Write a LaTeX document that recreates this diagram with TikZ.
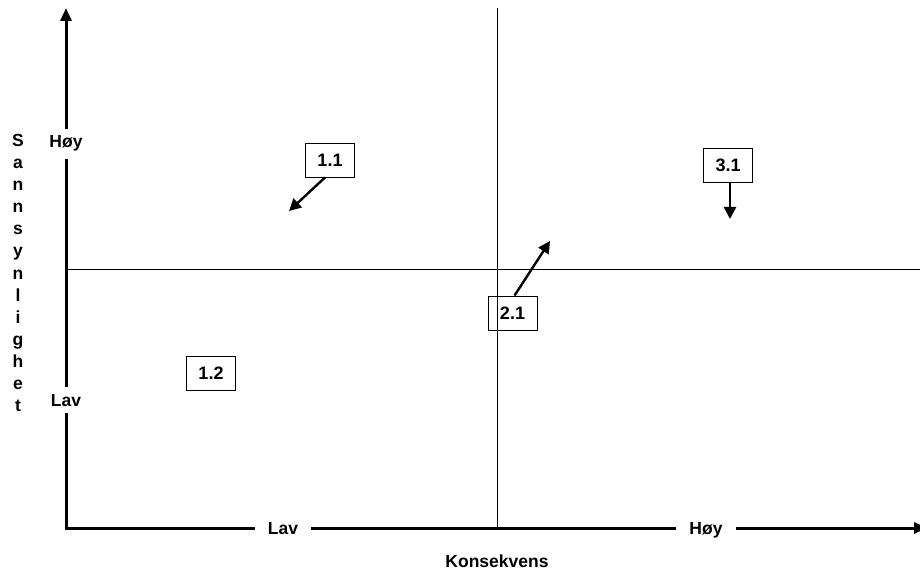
\documentclass[tikz,border=0pt]{standalone}
\usepackage{fontspec}
\setmainfont{Liberation Sans}
\usetikzlibrary{arrows.meta}
\begin{document}
\begin{tikzpicture}[x=1pt,y=-1pt,
  lbl/.style={font=\fontsize{17.5}{20}\selectfont\bfseries, inner sep=0pt},
  axlbl/.style={lbl, fill=white, inner xsep=11pt, inner ysep=7pt, anchor=base},
  riskbox/.style={draw, line width=0.9pt, minimum width=49pt, minimum height=34pt, inner sep=0pt, font=\fontsize{18}{20}\selectfont\bfseries},
  axis/.style={line width=3pt, -{Triangle[width=11pt,length=13pt]}},
  thin/.style={line width=1pt},
  arr/.style={line width=2.4pt, -{Triangle[width=12pt,length=12pt]}}]
\useasboundingbox (0,0) rectangle (920,569);
\coordinate (o) at (66,528);
\coordinate (ytop) at (66,8);
\coordinate (xend) at (927,528);
\coordinate (vtop) at (497,8);
\coordinate (vbot) at (497,528);
\coordinate (hl) at (66,269);
\coordinate (hr) at (920,269);
% thin quadrant lines
\draw[thin] (vtop) -- (vbot);
\draw[thin] (hl) -- (hr);
% axes
\draw[axis] (o) -- (ytop);
\draw[axis] ([xshift=-1.5pt]o) -- (xend);
% axis labels
\node[axlbl] (yh) at (66,148) {Høy};
\node[axlbl] (yl) at (66,406) {Lav};
\node[axlbl, inner xsep=13pt] (xl) at (283,534) {Lav};
\node[axlbl, inner xsep=13pt] (xh) at (706,534) {Høy};
\node[lbl, anchor=base] (kons) at (497,567) {Konsekvens};
\foreach \c [count=\i] in {S,a,n,n,s,y,n,l,i,g,h,e,t}
  \node[lbl, anchor=base] (s\i) at (18,{147+22*(\i-1)}) {\c};
% risk boxes
\node[riskbox] (b11) at (330,160) {1.1};
\node[riskbox] (b12) at (211,373) {1.2};
\node[riskbox] (b21) at (512.5,313) {2.1};
\node[riskbox] (b31) at (728,165) {3.1};
% trend arrows
\coordinate (e11) at (289,211);
\coordinate (e21) at (550,241);
\coordinate (e31) at (730,219);
\draw[arr] ([xshift=-5pt]b11.south) -- (e11);
\draw[arr] ([xshift=2pt]b21.north) -- (e21);
\draw[arr] ([xshift=2pt]b31.south) -- (e31);
\end{tikzpicture}
\end{document}
